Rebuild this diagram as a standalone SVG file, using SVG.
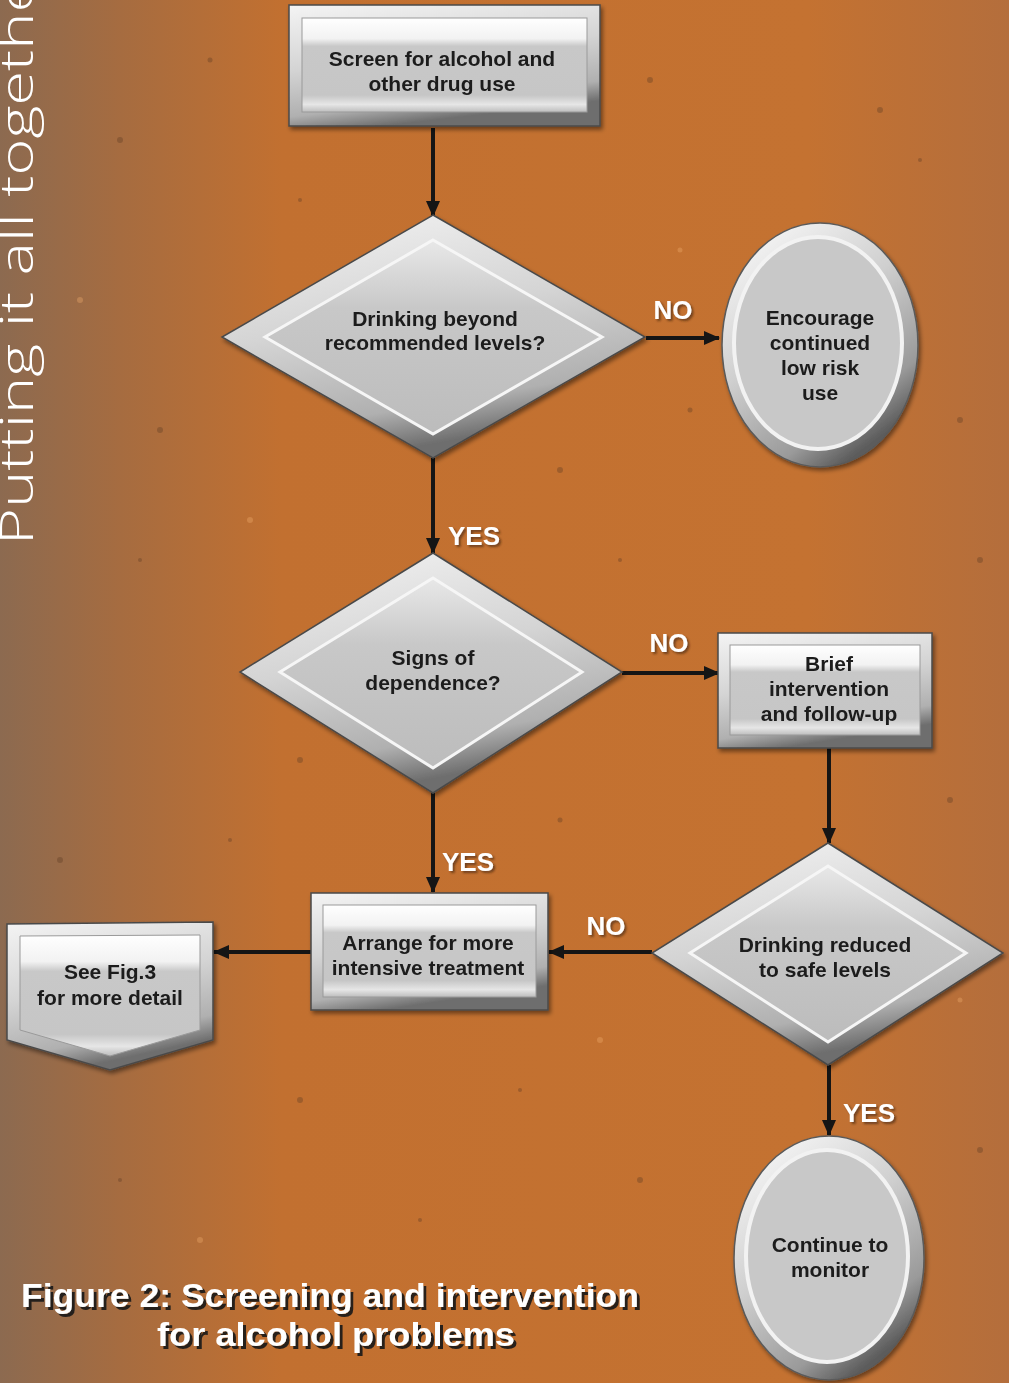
<svg xmlns="http://www.w3.org/2000/svg" width="1009" height="1383" viewBox="0 0 1009 1383">
<defs>
<linearGradient id="bg" x1="0" y1="0" x2="1" y2="0">
<stop offset="0" stop-color="#8c6a50"/>
<stop offset="0.12" stop-color="#a66c40"/>
<stop offset="0.28" stop-color="#c27030"/>
<stop offset="0.8" stop-color="#c47231"/>
<stop offset="1" stop-color="#b46e3c"/>
</linearGradient>
<linearGradient id="rim" x1="0" y1="0" x2="0.3" y2="1">
<stop offset="0" stop-color="#f4f4f4"/>
<stop offset="0.5" stop-color="#d4d4d4"/>
<stop offset="0.85" stop-color="#b0b0b0"/>
<stop offset="1" stop-color="#6e6e6e"/>
</linearGradient>
<linearGradient id="face" x1="0" y1="0" x2="0" y2="1">
<stop offset="0" stop-color="#ffffff"/>
<stop offset="0.22" stop-color="#f2f2f2"/>
<stop offset="0.3" stop-color="#c8c8c8"/>
<stop offset="0.82" stop-color="#c6c6c6"/>
<stop offset="0.92" stop-color="#e6e6e6"/>
<stop offset="1" stop-color="#bdbdbd"/>
</linearGradient>
<linearGradient id="dface" x1="0" y1="0" x2="0" y2="1">
<stop offset="0" stop-color="#e8e8e8"/>
<stop offset="0.35" stop-color="#c8c8c8"/>
<stop offset="1" stop-color="#bcbcbc"/>
</linearGradient>
<linearGradient id="erim" x1="0" y1="0" x2="0.6" y2="1">
<stop offset="0" stop-color="#ffffff"/>
<stop offset="0.5" stop-color="#cfcfcf"/>
<stop offset="0.85" stop-color="#9a9a9a"/>
<stop offset="1" stop-color="#5c5c5c"/>
</linearGradient>
<marker id="ah" markerUnits="userSpaceOnUse" markerWidth="16" markerHeight="14" refX="15" refY="7" orient="auto">
<path d="M0,0 L16,7 L0,14 Z" fill="#151515"/>
</marker>
<filter id="sh" x="-5%" y="-5%" width="110%" height="115%">
<feOffset dx="2" dy="3" in="SourceAlpha" result="o"/>
<feGaussianBlur in="o" stdDeviation="2" result="b"/>
<feFlood flood-color="#000" flood-opacity="0.45"/>
<feComposite in2="b" operator="in" result="s"/>
<feMerge><feMergeNode in="s"/><feMergeNode in="SourceGraphic"/></feMerge>
</filter>
<filter id="tsh" x="-5%" y="-20%" width="110%" height="150%">
<feOffset dx="3" dy="3" in="SourceAlpha" result="o"/>
<feFlood flood-color="#1a1a1a" flood-opacity="0.9"/>
<feComposite in2="o" operator="in" result="s"/>
<feMerge><feMergeNode in="s"/><feMergeNode in="SourceGraphic"/></feMerge>
</filter>
<filter id="ysh" x="-10%" y="-20%" width="130%" height="150%">
<feOffset dx="2" dy="2" in="SourceAlpha" result="o"/>
<feGaussianBlur in="o" stdDeviation="1" result="b"/>
<feFlood flood-color="#3a2010" flood-opacity="0.6"/>
<feComposite in2="b" operator="in" result="s"/>
<feMerge><feMergeNode in="s"/><feMergeNode in="SourceGraphic"/></feMerge>
</filter>
</defs>
<style>
.rim{fill:url(#rim);stroke:#4a4a4a;stroke-width:1.5}
.erim{fill:url(#erim);stroke:#5a5a5a;stroke-width:1.5}
.face{fill:url(#face);stroke:#9a9a9a;stroke-width:1}
.dface{fill:url(#dface);stroke:#f6f6f6;stroke-width:3}
.eface{fill:#c8c8c8;stroke:#f2f2f2;stroke-width:4}
.lbl{font-family:"Liberation Sans",Arial,sans-serif;font-weight:bold;font-size:21px;fill:#1c1c1c;text-anchor:middle}
.yn{font-family:"Liberation Sans",Arial,sans-serif;font-weight:bold;font-size:26px;fill:#ffffff;text-anchor:middle;filter:url(#ysh)}
.ttl{font-family:"Liberation Sans",Arial,sans-serif;font-weight:bold;font-size:34px;text-anchor:middle;fill:#ffffff;filter:url(#tsh)}
.con{stroke:#151515;stroke-width:4;fill:none;marker-end:url(#ah)}
.dot{fill:#5a3a22;opacity:0.35}
.ldot{fill:#f0b070;opacity:0.35}
</style>
<rect x="0" y="0" width="1009" height="1383" fill="url(#bg)"/>
<g id="speckles">
<circle class="dot" cx="120" cy="140" r="3"/><circle class="dot" cx="210" cy="60" r="2.5"/><circle class="dot" cx="650" cy="80" r="3"/>
<circle class="dot" cx="880" cy="110" r="3"/><circle class="dot" cx="920" cy="160" r="2"/><circle class="dot" cx="160" cy="430" r="3"/>
<circle class="dot" cx="300" cy="200" r="2"/><circle class="dot" cx="560" cy="470" r="3"/><circle class="dot" cx="690" cy="410" r="2.5"/>
<circle class="dot" cx="960" cy="420" r="3"/><circle class="dot" cx="140" cy="560" r="2"/><circle class="dot" cx="300" cy="760" r="3"/>
<circle class="dot" cx="620" cy="560" r="2"/><circle class="dot" cx="980" cy="560" r="3"/><circle class="dot" cx="60" cy="860" r="3"/>
<circle class="dot" cx="230" cy="840" r="2"/><circle class="dot" cx="560" cy="820" r="2.5"/><circle class="dot" cx="950" cy="800" r="3"/>
<circle class="dot" cx="300" cy="1100" r="3"/><circle class="dot" cx="520" cy="1090" r="2"/><circle class="dot" cx="640" cy="1180" r="3"/>
<circle class="dot" cx="120" cy="1180" r="2"/><circle class="dot" cx="980" cy="1150" r="3"/><circle class="dot" cx="420" cy="1220" r="2"/>
<circle class="ldot" cx="80" cy="300" r="3"/><circle class="ldot" cx="250" cy="520" r="3"/><circle class="ldot" cx="680" cy="250" r="2.5"/>
<circle class="ldot" cx="600" cy="1040" r="3"/><circle class="ldot" cx="200" cy="1240" r="3"/><circle class="ldot" cx="960" cy="1000" r="2.5"/>
</g>
<text id="sidetitle" transform="translate(33,545) rotate(-90)" font-family="'Open Sans','DejaVu Sans',sans-serif" font-weight="300" font-size="46" fill="#ffffff" textLength="592" lengthAdjust="spacingAndGlyphs">Putting it all together</text>
<g id="connectors">
<line class="con" x1="433" y1="128" x2="433" y2="216"/>
<line class="con" x1="646" y1="338" x2="719" y2="338"/>
<line class="con" x1="433" y1="458" x2="433" y2="553"/>
<line class="con" x1="622" y1="673" x2="719" y2="673"/>
<line class="con" x1="829" y1="748" x2="829" y2="843"/>
<line class="con" x1="433" y1="793" x2="433" y2="892"/>
<line class="con" x1="652" y1="952" x2="549" y2="952"/>
<line class="con" x1="311" y1="952" x2="214" y2="952"/>
<line class="con" x1="829" y1="1065" x2="829" y2="1135"/>
<text class="yn" x="673" y="319">NO</text>
<text class="yn" x="474" y="545">YES</text>
<text class="yn" x="669" y="652">NO</text>
<text class="yn" x="468" y="871">YES</text>
<text class="yn" x="606" y="935">NO</text>
<text class="yn" x="869" y="1122">YES</text>
</g>
<g id="screen" filter="url(#sh)">
<rect class="rim" x="289" y="5" width="311" height="121"/>
<rect class="face" x="302" y="18" width="285" height="94"/>
<text class="lbl" x="442" y="66">Screen for alcohol and</text>
<text class="lbl" x="442" y="91">other drug use</text>
</g>
<g id="drinking-beyond" filter="url(#sh)">
<polygon class="rim" points="433,215 645,337 433,458 222,337"/>
<polygon class="dface" points="433,240 602,337 433,434 265,337"/>
<text class="lbl" x="435" y="326">Drinking beyond</text>
<text class="lbl" x="435" y="350">recommended levels?</text>
</g>
<g id="encourage" filter="url(#sh)">
<ellipse class="erim" cx="820" cy="345" rx="98" ry="122"/>
<ellipse class="eface" cx="818" cy="343" rx="84" ry="106"/>
<text class="lbl" x="820" y="325">Encourage</text>
<text class="lbl" x="820" y="350">continued</text>
<text class="lbl" x="820" y="375">low risk</text>
<text class="lbl" x="820" y="400">use</text>
</g>
<g id="signs" filter="url(#sh)">
<polygon class="rim" points="433,553 622,672 433,793 240,672"/>
<polygon class="dface" points="433,578 582,672 433,768 280,672"/>
<text class="lbl" x="433" y="665">Signs of</text>
<text class="lbl" x="433" y="690">dependence?</text>
</g>
<g id="brief" filter="url(#sh)">
<rect class="rim" x="718" y="633" width="214" height="115"/>
<rect class="face" x="730" y="645" width="190" height="90"/>
<text class="lbl" x="829" y="671">Brief</text>
<text class="lbl" x="829" y="696">intervention</text>
<text class="lbl" x="829" y="721">and follow-up</text>
</g>
<g id="drinking-reduced" filter="url(#sh)">
<polygon class="rim" points="828,843 1003,953 828,1065 652,953"/>
<polygon class="dface" points="828,866 966,953 828,1042 690,953"/>
<text class="lbl" x="825" y="952">Drinking reduced</text>
<text class="lbl" x="825" y="977">to safe levels</text>
</g>
<g id="arrange" filter="url(#sh)">
<rect class="rim" x="311" y="893" width="237" height="117"/>
<rect class="face" x="323" y="905" width="213" height="92"/>
<text class="lbl" x="428" y="950">Arrange for more</text>
<text class="lbl" x="428" y="975">intensive treatment</text>
</g>
<g id="see-fig3" filter="url(#sh)">
<polygon class="rim" points="7,924 213,922 213,1040 110,1070 7,1040"/>
<polygon class="face" points="20,936 200,935 200,1030 110,1056 20,1030"/>
<text class="lbl" x="110" y="979">See Fig.3</text>
<text class="lbl" x="110" y="1005">for more detail</text>
</g>
<g id="continue" filter="url(#sh)">
<ellipse class="erim" cx="829" cy="1258" rx="95" ry="122"/>
<ellipse class="eface" cx="827" cy="1256" rx="81" ry="106"/>
<text class="lbl" x="830" y="1252">Continue to</text>
<text class="lbl" x="830" y="1277">monitor</text>
</g>
<g id="caption">
<text class="ttl" x="330" y="1307" textLength="618" lengthAdjust="spacingAndGlyphs">Figure 2: Screening and intervention</text>
<text class="ttl" x="336" y="1346" textLength="358" lengthAdjust="spacingAndGlyphs">for alcohol problems</text>
</g>
</svg>
